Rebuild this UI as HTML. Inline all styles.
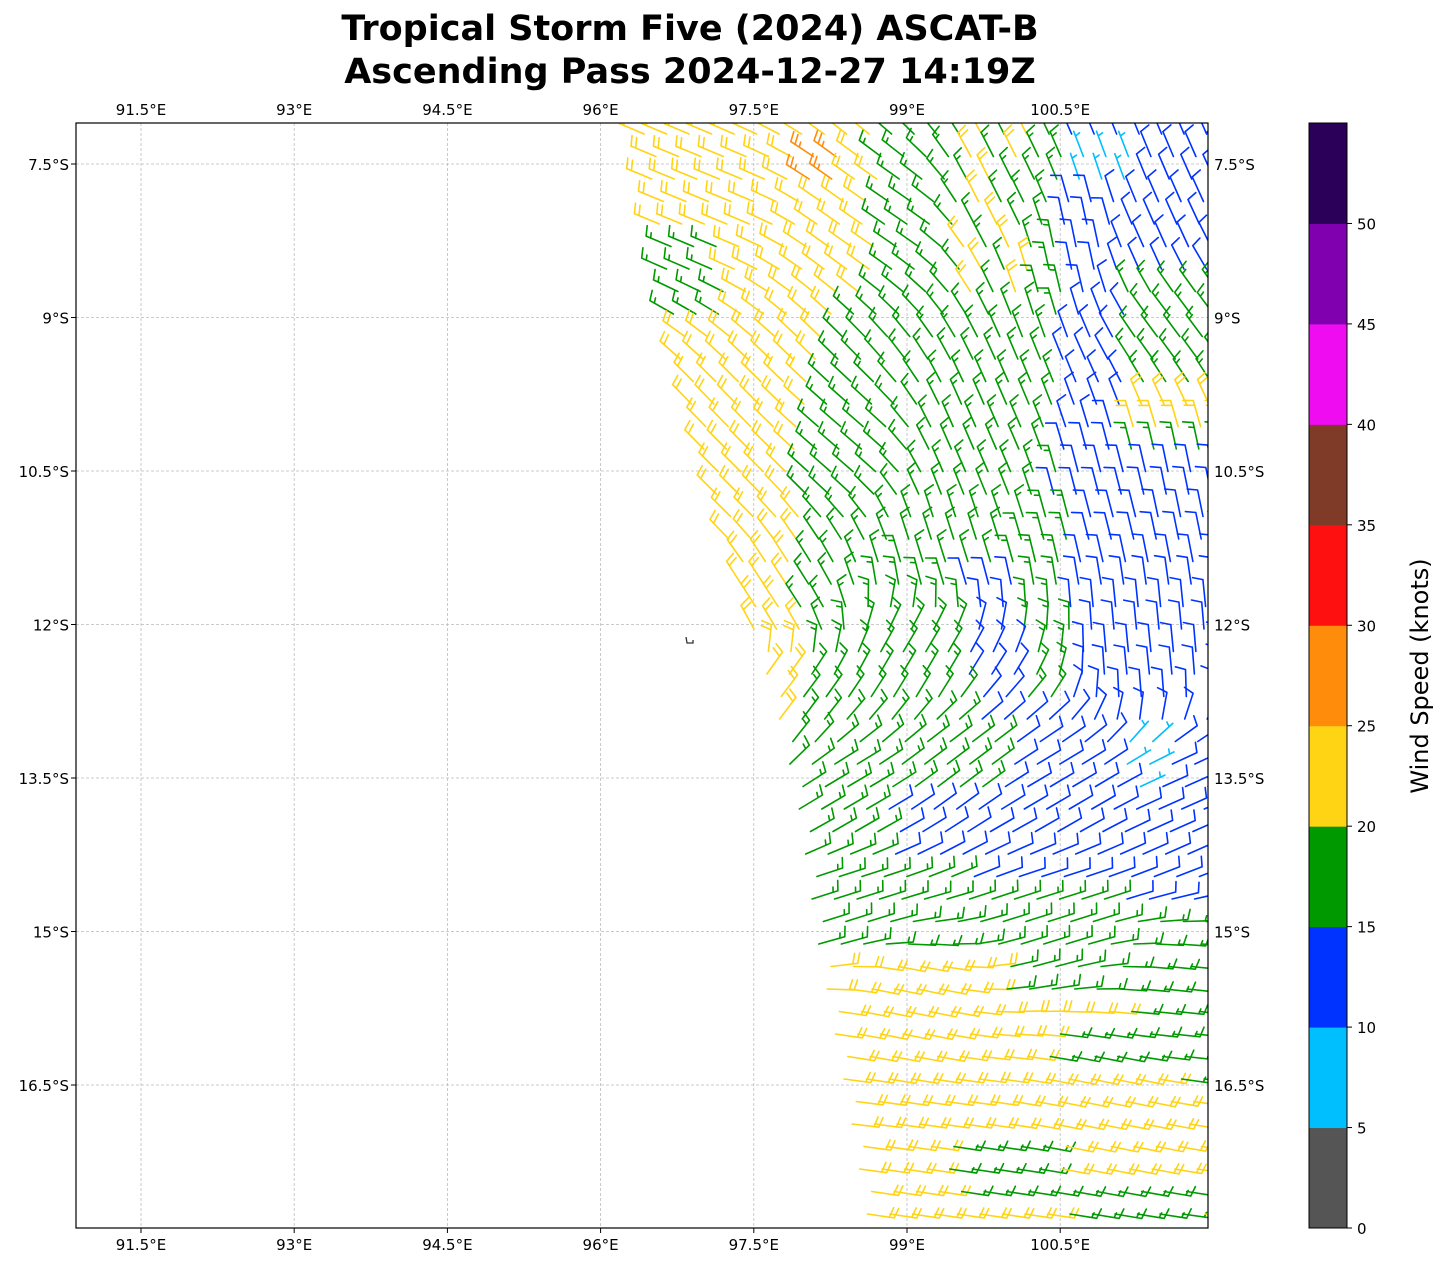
<!DOCTYPE html>
<html><head><meta charset="utf-8">
<style>
body{margin:0;background:#fff;}
svg text{font-family:"DejaVu Sans","Liberation Sans",sans-serif;}
</style></head>
<body>
<svg id="s" width="1446" height="1264" xmlns="http://www.w3.org/2000/svg">
<defs><clipPath id="pc"><rect x="76" y="123" width="1132" height="1105"/></clipPath></defs>
<rect width="1446" height="1264" fill="#fff"/>
<text x="690" y="40" font-size="35" font-weight="bold" text-anchor="middle">Tropical Storm Five (2024) ASCAT-B</text>
<text x="690" y="83" font-size="35" font-weight="bold" text-anchor="middle">Ascending Pass 2024-12-27 14:19Z</text>
<g id="grid" stroke="#bbb" stroke-width="0.8" stroke-dasharray="3,2"></g>
<g id="barbs" stroke-width="1.6" fill="none" stroke-linecap="round" clip-path="url(#pc)"></g>
<path d="M686,637 l1,6 l6,0 l0,-3" stroke="#333" stroke-width="1.3" fill="none"/>
<rect x="76" y="123" width="1132" height="1105" fill="none" stroke="#000" stroke-width="1.2"/>
<g id="ticks" font-size="15" fill="#000"></g>
<g id="cbar"></g>
<text transform="translate(1428,676) rotate(-90)" font-size="24" text-anchor="middle">Wind Speed (knots)</text>
</svg>
<script>
const NS="http://www.w3.org/2000/svg";
function el(p,t,a,txt){const e=document.createElementNS(NS,t);for(const k in a)e.setAttribute(k,a[k]);if(txt!==undefined)e.textContent=txt;p.appendChild(e);return e;}
const grid=document.getElementById('grid'),ticks=document.getElementById('ticks');
const lons=["91.5°E","93°E","94.5°E","96°E","97.5°E","99°E","100.5°E"];
lons.forEach((l,i)=>{const x=141+i*153.2;el(grid,'line',{x1:x,y1:123,x2:x,y2:1228});
 el(ticks,'line',{x1:x,y1:1228,x2:x,y2:1233,stroke:'#000'});
 el(ticks,'text',{x:x,y:115,'text-anchor':'middle'},l);el(ticks,'text',{x:x,y:1250,'text-anchor':'middle'},l);});
const lats=["7.5°S","9°S","10.5°S","12°S","13.5°S","15°S","16.5°S"];
lats.forEach((l,i)=>{const y=164+i*153.5;el(grid,'line',{x1:76,y1:y,x2:1208,y2:y});
 el(ticks,'line',{x1:71,y1:y,x2:76,y2:y,stroke:'#000'});
 el(ticks,'text',{x:69,y:y+6,'text-anchor':'end'},l);el(ticks,'text',{x:1214,y:y+6},l);});
const cb=document.getElementById('cbar');
const cols=["#555555","#00bfff","#0033ff","#009900","#ffd414","#ff8c0a","#ff1010","#7f3b27","#f00cf0","#8000b0","#2b0058"];
const seg=1105/11;
cols.forEach((c,i)=>{el(cb,'rect',{x:1309,y:1228-(i+1)*seg,width:38,height:seg+0.5,fill:c});});
el(cb,'rect',{x:1309,y:123,width:38,height:1105,fill:'none',stroke:'#000','stroke-width':1});
for(let i=0;i<=10;i++){const y=1228-i*seg;el(cb,'line',{x1:1347,y1:y,x2:1352,y2:y,stroke:'#000'});
 el(cb,'text',{x:1357,y:y+6,'font-size':15},String(i*5));}
const pts=[[110,640],[240,662],[370,682],[580,740],[720,780],[800,798],[940,818],[1100,848],[1240,872]];
function L(y){for(let i=0;i<pts.length-1;i++){if(y<=pts[i+1][0]){const t=(y-pts[i][0])/(pts[i+1][0]-pts[i][0]);return pts[i][1]+t*(pts[i+1][1]-pts[i][1]);}}return 872;}
const S=[[700,200,-0.92,-0.38],[900,220,-0.8,-0.55],[1000,200,-0.45,-0.9],[1080,250,-0.2,-0.98],[1150,250,-0.4,-0.9],
[1180,320,-0.6,-0.8],[720,500,-0.7,-0.7],[780,600,-0.55,-0.85],[950,550,-0.3,-0.95],[850,450,-0.75,-0.65],
[980,450,-0.4,-0.92],[1100,500,-0.25,-0.97],[1190,500,-0.2,-0.98],[1150,660,-0.1,-1],[920,670,0.5,-0.85],
[780,700,0.6,-0.8],[950,760,0.8,-0.6],[1050,800,0.85,-0.5],[850,800,0.85,-0.5],[1180,800,0.9,-0.4],
[850,900,0.95,-0.3],[1050,900,0.95,-0.3],[900,1000,0.97,0.2],[1100,1100,0.97,0.2],[950,1200,0.97,0.15],[1180,1000,0.97,0.1]];
function dir(x,y){let sx=0,sy=0;for(const s of S){const d2=(x-s[0])**2+(y-s[1])**2+100;const w=1/(d2*d2);sx+=w*s[2];sy+=w*s[3];}
 const n=Math.hypot(sx,sy);return [sx/n,sy/n];}
function color(x,y){
 if(y<720){
  if(x>800&&x<845&&y>155&&y<200)return "o";
  if(x>1075&&x<1140&&y>150&&y<190)return "c";
  if(x<725&&y>225&&y<320)return "g";
  const blueX = y<480?1062:(y<580?1040:965);
  if(x>blueX){ if(y>280&&y<470&&x>1125)return (y>400&&y<440)?"y":"g"; if(y>500&&y<700&&x>1020&&x<1070)return "g"; return "b";}
  const gs = y<300?880:(y<470?850-(y-300)*0.3:800);
  if(x>gs){ if(y<300&&x>960&&x<1030&&((Math.round(x/22)+Math.round(y/22))%2))return "y"; return "g";}
  return "y";
 } else {
  if(Math.hypot(x-1140,y-760)<30)return "c";
  if(y<930 && x>860+(y-720)*0.25 && y<860+(x-860)*0.15){ if(x<1000&&y<790)return "g"; return "b";}
  if(y<945)return "g";
  if((x>1000&&y<1000+(x-1000)*0.1)||(y>1130&&y<1200&&x>940&&x<1060)||(y>1020&&y<1065&&x>1040)||(x>1170&&y<1080)||(y>1170&&x>1060&&x<1200&&y<1230&&x>1000+ (1230-y)))return "g";
  return "y";
 }
}
const CM={y:["#ffd414",22],g:["#009900",17],b:["#0033ff",12],c:["#00bfff",7],o:["#ff8c0a",27]};
const B=document.getElementById('barbs');
let row=0;
for(let y=134;y<1226;y+=22.5,row++){
 for(let x=L(y)+(row%2)*8;x<1230;x+=22.5){
  const [col,sp]=CM[color(x,y)];
  const [tx,ty]=dir(x,y);
  const len=27,ex=x+tx*len,ey=y+ty*len;
  let d=`M${x.toFixed(1)},${y.toFixed(1)}L${ex.toFixed(1)},${ey.toFixed(1)}`;
  let px=-ty,py=tx; if(px*(-0.3)+py*(-1)<0){px=-px;py=-py;}
  let full=Math.floor((sp+2.5)/10),half=((sp+2.5)%10)>=5?1:0;
  let pos=0;
  for(let k=0;k<full;k++){const bx=ex-tx*pos,by=ey-ty*pos;
   d+=`M${bx.toFixed(1)},${by.toFixed(1)}l${(px*10+tx*3).toFixed(1)},${(py*10+ty*3).toFixed(1)}`;pos+=5;}
  if(half){if(pos===0)pos=5;const bx=ex-tx*pos,by=ey-ty*pos;
   d+=`M${bx.toFixed(1)},${by.toFixed(1)}l${(px*5+tx*1.5).toFixed(1)},${(py*5+ty*1.5).toFixed(1)}`;}
  el(B,'path',{d:d,stroke:col});
 }
}
</script>
</body></html>
